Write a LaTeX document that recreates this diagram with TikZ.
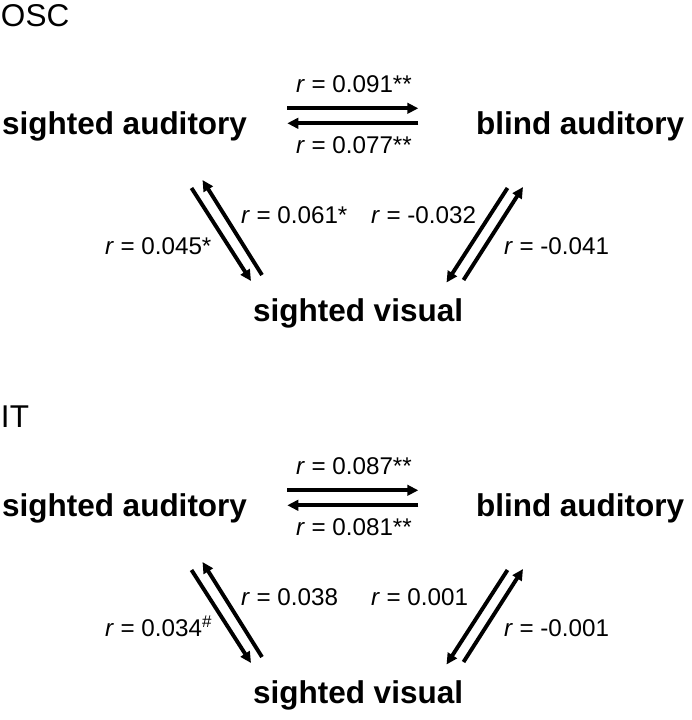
\documentclass[tikz,border=0pt]{standalone}
\usepackage{fontspec}
\setmainfont{Liberation Sans}
\usetikzlibrary{arrows.meta}
\begin{document}
\begin{tikzpicture}[x=1pt,y=-1pt,
  every node/.style={inner sep=0pt,outer sep=0pt,anchor=base west},
  panel/.style={font=\fontsize{31.5}{36}\selectfont},
  cond/.style={font=\fontsize{31.5}{36}\selectfont\bfseries},
  corr/.style={font=\fontsize{24.2}{28}\selectfont},
  arr/.style={line width=3.9pt,-{Triangle[length=11pt,width=10.5pt]}}]
\useasboundingbox (0,0) rectangle (692,720);
\foreach \dy/\pn/\ab/\ba/\asv/\sva/\bsv/\svb/\pny in
  {0/OSC/0.091**/0.077**/0.045*/0.061*/-0.041/-0.032/26,
   382/IT/0.087**/0.081**/0.034\textsuperscript{\#}/0.038/-0.001/0.001/45}{
  \begin{scope}[yshift=-\dy pt]
    \node[panel] (p\dy) at (1,\pny) {\pn};
    \node[cond] (sa\dy) at (2,134.5) {sighted auditory};
    \node[cond] (ba\dy) at (476,134.5) {blind auditory};
    \node[cond] (sv\dy) at (253,321.7) {sighted visual};
    \node[corr] (lab\dy) at (296,92.3) {\textit{r} = \ab};
    \node[corr] (lba\dy) at (296,153.3) {\textit{r} = \ba};
    \node[corr] (lsva\dy) at (241,223) {\textit{r} = \sva};
    \node[corr] (lsvb\dy) at (371,223) {\textit{r} = \svb};
    \node[corr] (lasv\dy) at (105,254.5) {\textit{r} = \asv};
    \node[corr] (lbsv\dy) at (504,254.5) {\textit{r} = \bsv};
    \coordinate (h1s\dy) at (287.3,108.3);
    \coordinate (h1e\dy) at (418.3,108.3);
    \coordinate (h2s\dy) at (418.3,123.3);
    \coordinate (h2e\dy) at (287.3,123.3);
    \coordinate (l1s\dy) at (191.5,188);
    \coordinate (l1e\dy) at (251,281);
    \coordinate (l2s\dy) at (262,275);
    \coordinate (l2e\dy) at (202.5,180);
    \coordinate (r1s\dy) at (507.5,188);
    \coordinate (r1e\dy) at (446.5,282.5);
    \coordinate (r2s\dy) at (463.5,280);
    \coordinate (r2e\dy) at (523,187);
    \draw[arr] (h1s\dy) -- (h1e\dy);
    \draw[arr] (h2s\dy) -- (h2e\dy);
    \draw[arr] (l1s\dy) -- (l1e\dy);
    \draw[arr] (l2s\dy) -- (l2e\dy);
    \draw[arr] (r1s\dy) -- (r1e\dy);
    \draw[arr] (r2s\dy) -- (r2e\dy);
  \end{scope}}
\end{tikzpicture}
\end{document}
